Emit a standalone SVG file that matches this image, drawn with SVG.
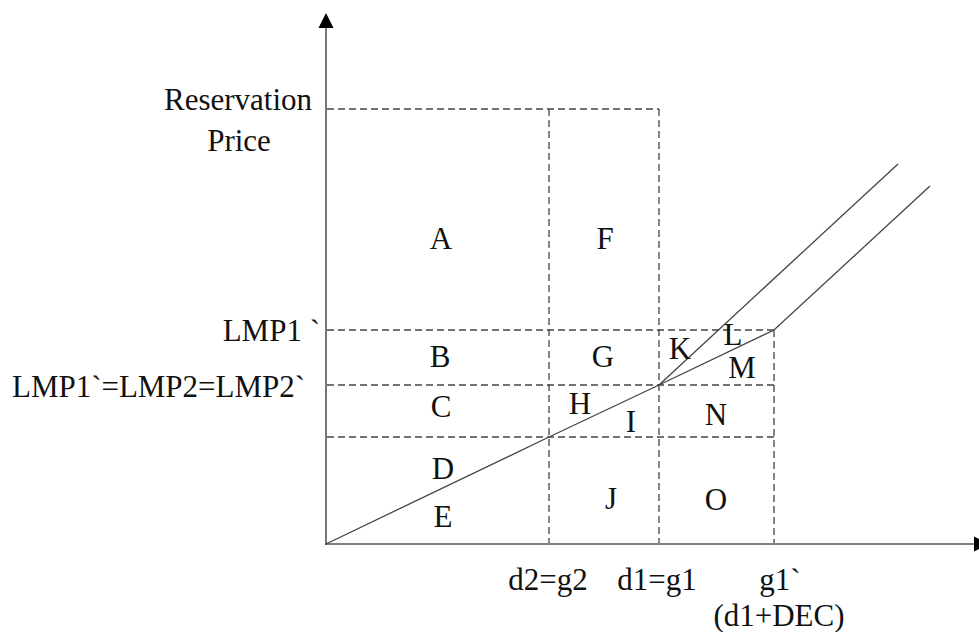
<svg xmlns="http://www.w3.org/2000/svg" width="979" height="632" viewBox="0 0 979 632">
<style>
text{font-family:"Liberation Serif","Times New Roman",serif;font-size:31px;fill:#111;}
.m{text-anchor:middle}
.e{text-anchor:end}
.ax{stroke:#555;stroke-width:1.6;fill:none}
.d{stroke:#444;stroke-width:1.3;stroke-dasharray:7 4;fill:none}
.c{stroke:#444;stroke-width:1.3;fill:none}
</style>
<rect width="979" height="632" fill="#fff"/>
<g id="axes">
<line class="ax" x1="326" y1="26" x2="326" y2="545"/>
<line class="ax" x1="325" y1="544" x2="976" y2="544"/>
<polygon points="326,13 318.5,28 333.5,28" fill="#000"/>
<polygon points="989,544 974,536.5 974,551.5" fill="#000"/>
</g>
<g id="grid">
<line class="d" x1="327" y1="109" x2="659" y2="109"/>
<line class="d" x1="327" y1="330" x2="774" y2="330"/>
<line class="d" x1="327" y1="385" x2="774" y2="385"/>
<line class="d" x1="327" y1="437" x2="774" y2="437"/>
<line class="d" x1="549" y1="109" x2="549" y2="543"/>
<line class="d" x1="659" y1="109" x2="659" y2="543"/>
<line class="d" x1="774" y1="330" x2="774" y2="543"/>
</g>
<g id="curves">
<polyline class="c" points="326,544 549,437 659,385 774,330 930,186"/>
<line class="c" x1="659" y1="385" x2="898" y2="164"/>
</g>
<g id="labels">
<text class="m" x="238" y="110">Reservation</text>
<text class="m" x="239" y="151">Price</text>
<text class="e" x="320" y="341">LMP1 `</text>
<text x="12" y="397" textLength="293">LMP1`=LMP2=LMP2`</text>
<text class="m" x="441" y="249">A</text>
<text class="m" x="605" y="249">F</text>
<text class="m" x="440" y="367">B</text>
<text class="m" x="603" y="367">G</text>
<text class="m" x="680" y="359">K</text>
<text class="m" x="733" y="345">L</text>
<text class="m" x="742" y="378">M</text>
<text class="m" x="441" y="417">C</text>
<text class="m" x="580" y="414">H</text>
<text class="m" x="631" y="432">I</text>
<text class="m" x="716" y="425">N</text>
<text class="m" x="443" y="479">D</text>
<text class="m" x="443" y="527">E</text>
<text class="m" x="611" y="509">J</text>
<text class="m" x="716" y="510">O</text>
<text class="m" x="548" y="590">d2=g2</text>
<text class="m" x="657" y="590">d1=g1</text>
<text class="m" x="780" y="590">g1`</text>
<text class="m" x="779" y="626">(d1+DEC)</text>
</g>
</svg>
